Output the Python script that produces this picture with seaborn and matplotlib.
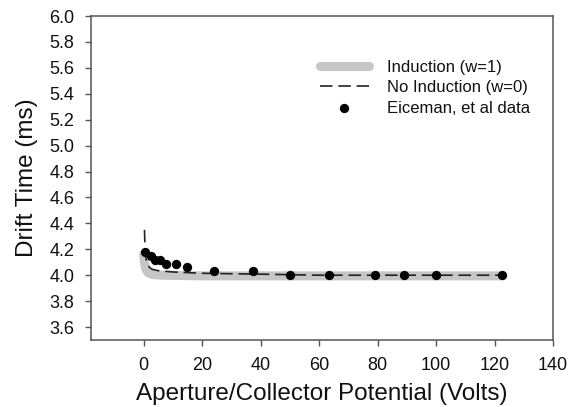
import matplotlib
matplotlib.use("Agg")
import matplotlib.pyplot as plt
import seaborn as sns

# Data
exp_volts = [0.5, 2.5, 4, 5.5, 7.5, 11, 15, 24, 37.5, 50, 63.5, 79, 89, 100, 122.5]
exp_time = [4.18, 4.15, 4.12, 4.12, 4.09, 4.09, 4.06, 4.03, 4.03, 4.0, 4.0, 4.0, 4.0, 4.0, 4.0]

ind_volts = [0, 0.3, 0.7, 1.5, 3, 6, 20, 60, 122.5]
ind_time = [4.16, 4.1, 4.05, 4.02, 4.005, 4.0, 3.995, 3.995, 3.995]

noind_volts = [0.3, 0.5, 1, 2, 3, 5, 10, 20, 40, 60, 122.5]
noind_time = [4.35, 4.2, 4.1, 4.06, 4.045, 4.035, 4.025, 4.015, 4.008, 4.0, 4.0]

xticks = [0, 20, 40, 60, 80, 100, 120, 140]
yticks = [3.6, 3.8, 4.0, 4.2, 4.4, 4.6, 4.8, 5.0, 5.2, 5.4, 5.6, 5.8, 6.0]

sns.set_theme(style="ticks")
plt.rcParams['font.family'] = ['Liberation Sans', 'DejaVu Sans']

fig = plt.figure(figsize=(5.72, 4.07), dpi=100)
ax = fig.add_axes([0.159, 0.1646, 0.808, 0.796])

sns.lineplot(x=ind_volts, y=ind_time, ax=ax, color="#c6c6c6", linewidth=6.5,
             solid_capstyle="round", label="Induction (w=1)", sort=False)
sns.lineplot(x=noind_volts, y=noind_time, ax=ax, color="#222222", linewidth=1.2,
             label="No Induction (w=0)", sort=False)
ax.lines[-1].set_dashes((7.5, 3.5))
sns.scatterplot(x=exp_volts, y=exp_time, ax=ax, color="black", s=45,
                edgecolor="black", linewidth=0, label="Eiceman, et al data", zorder=5)

ax.set_xlim(-18, 140)
ax.set_ylim(3.5, 6.0)
ax.set_xticks(xticks)
ax.set_yticks(yticks)
ax.set_xticklabels([str(t) for t in xticks])
ax.set_yticklabels([f"{t:.1f}" for t in yticks])
ax.tick_params(axis="both", direction="out", length=4, width=1, colors="#555555",
               labelcolor="#111111", labelsize=13)
ax.tick_params(axis="x", pad=8)
ax.tick_params(axis="y", pad=8)
for s in ax.spines.values():
    s.set_color("#555555")
    s.set_linewidth(1.1)
    s.set_visible(True)

ax.set_xlabel("Aperture/Collector Potential (Volts)", fontsize=17.5, color="#111111", labelpad=7)
ax.set_ylabel("Drift Time (ms)", fontsize=17.5, color="#111111", labelpad=8)

leg = ax.legend(loc="upper left", bbox_to_anchor=(0.496, 0.865), frameon=False,
                borderaxespad=0, borderpad=0,
                fontsize=12, handlelength=2.9, labelspacing=0.33, handletextpad=1.1)
for t in leg.get_texts():
    t.set_color("#111111")

fig.savefig("out.png", dpi=100)
